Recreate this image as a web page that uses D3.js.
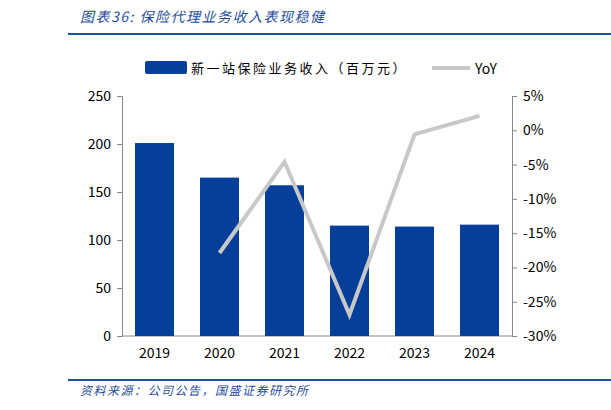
<!DOCTYPE html>
<html>
<head>
<meta charset="UTF-8">
<script src="https://cdn.jsdelivr.net/npm/d3@7"></script>
<style>body{margin:0;background:#fff}</style>
</head>
<body>
<svg id="svg" width="611" height="410"></svg>
<script>
const years = ["2019", "2020", "2021", "2022", "2023", "2024"];
const revenue = [201, 165, 157, 115, 114, 116];
const yoy = [null, -17.9, -4.6, -26.9, -0.6, 2.1];
const leftTicks = [0, 50, 100, 150, 200, 250];
const rightTicks = [5, 0, -5, -10, -15, -20, -25, -30];

const svg = d3.select("#svg");
const font = "'Noto Sans CJK SC', sans-serif";
const blue = "#063f99";

svg.append("text").attr("x", 80).attr("y", 22).attr("fill", "#1f4e9c")
  .attr("font-family", font).attr("font-size", 14).attr("font-style", "italic").attr("letter-spacing", 1.5)
  .text("图表36:  保险代理业务收入表现稳健");
svg.append("rect").attr("x", 68).attr("y", 33).attr("width", 543).attr("height", 2).attr("fill", "#1f4e9c");
svg.append("rect").attr("x", 68).attr("y", 379).attr("width", 543).attr("height", 2).attr("fill", "#1f4e9c");
svg.append("text").attr("x", 80).attr("y", 395).attr("fill", "#1f4e9c")
  .attr("font-family", font).attr("font-size", 12).attr("font-style", "italic").attr("letter-spacing", 1.5)
  .text("资料来源：公司公告，国盛证券研究所");

// legend
svg.append("rect").attr("x", 145).attr("y", 61).attr("width", 42).attr("height", 13).attr("rx", 2).attr("fill", blue);
svg.append("text").attr("x", 191).attr("y", 73).attr("font-family", font).attr("font-size", 13)
  .attr("letter-spacing", 2.5).text("新一站保险业务收入（百万元）");
svg.append("line").attr("x1", 432).attr("x2", 470).attr("y1", 68).attr("y2", 68)
  .attr("stroke", "#c8c8c8").attr("stroke-width", 4);
svg.append("text").attr("x", 475).attr("y", 74).attr("font-family", font).attr("font-size", 14).text("YoY");

const x = d3.scaleBand().domain(years).range([122, 512]).paddingInner(0.4).paddingOuter(0.2);
const yL = d3.scaleLinear().domain([0, 250]).range([336, 96]);
const yR = d3.scaleLinear().domain([-30, 5]).range([336, 96]);

const gL = svg.append("g").attr("transform", "translate(122,0)")
  .call(d3.axisLeft(yL).tickValues(leftTicks).tickSize(5).tickPadding(6));
const gR = svg.append("g").attr("transform", "translate(512,0)")
  .call(d3.axisRight(yR).tickValues(rightTicks).tickSize(5).tickPadding(6).tickFormat(d => d + "%"));
const gX = svg.append("g").attr("transform", "translate(0,336)")
  .call(d3.axisBottom(x).tickSize(0).tickPadding(12));
[gL, gR, gX].forEach(g => {
  g.selectAll("text").attr("font-family", font).attr("font-size", 14).attr("fill", "#000");
  g.selectAll("path,line").attr("stroke", "#888");
});
gX.select("path").attr("d", "M122,0H512");

svg.append("g").selectAll("rect").data(revenue).enter().append("rect")
  .attr("x", (d, i) => x(years[i])).attr("width", x.bandwidth())
  .attr("y", d => yL(d)).attr("height", d => 336 - yL(d)).attr("fill", blue);

const line = d3.line().defined(d => d != null)
  .x((d, i) => x(years[i]) + x.bandwidth() / 2).y(d => yR(d));
svg.append("path").datum(yoy).attr("d", line).attr("fill", "none")
  .attr("stroke", "#c8c8c8").attr("stroke-width", 4);
</script>
</body>
</html>
